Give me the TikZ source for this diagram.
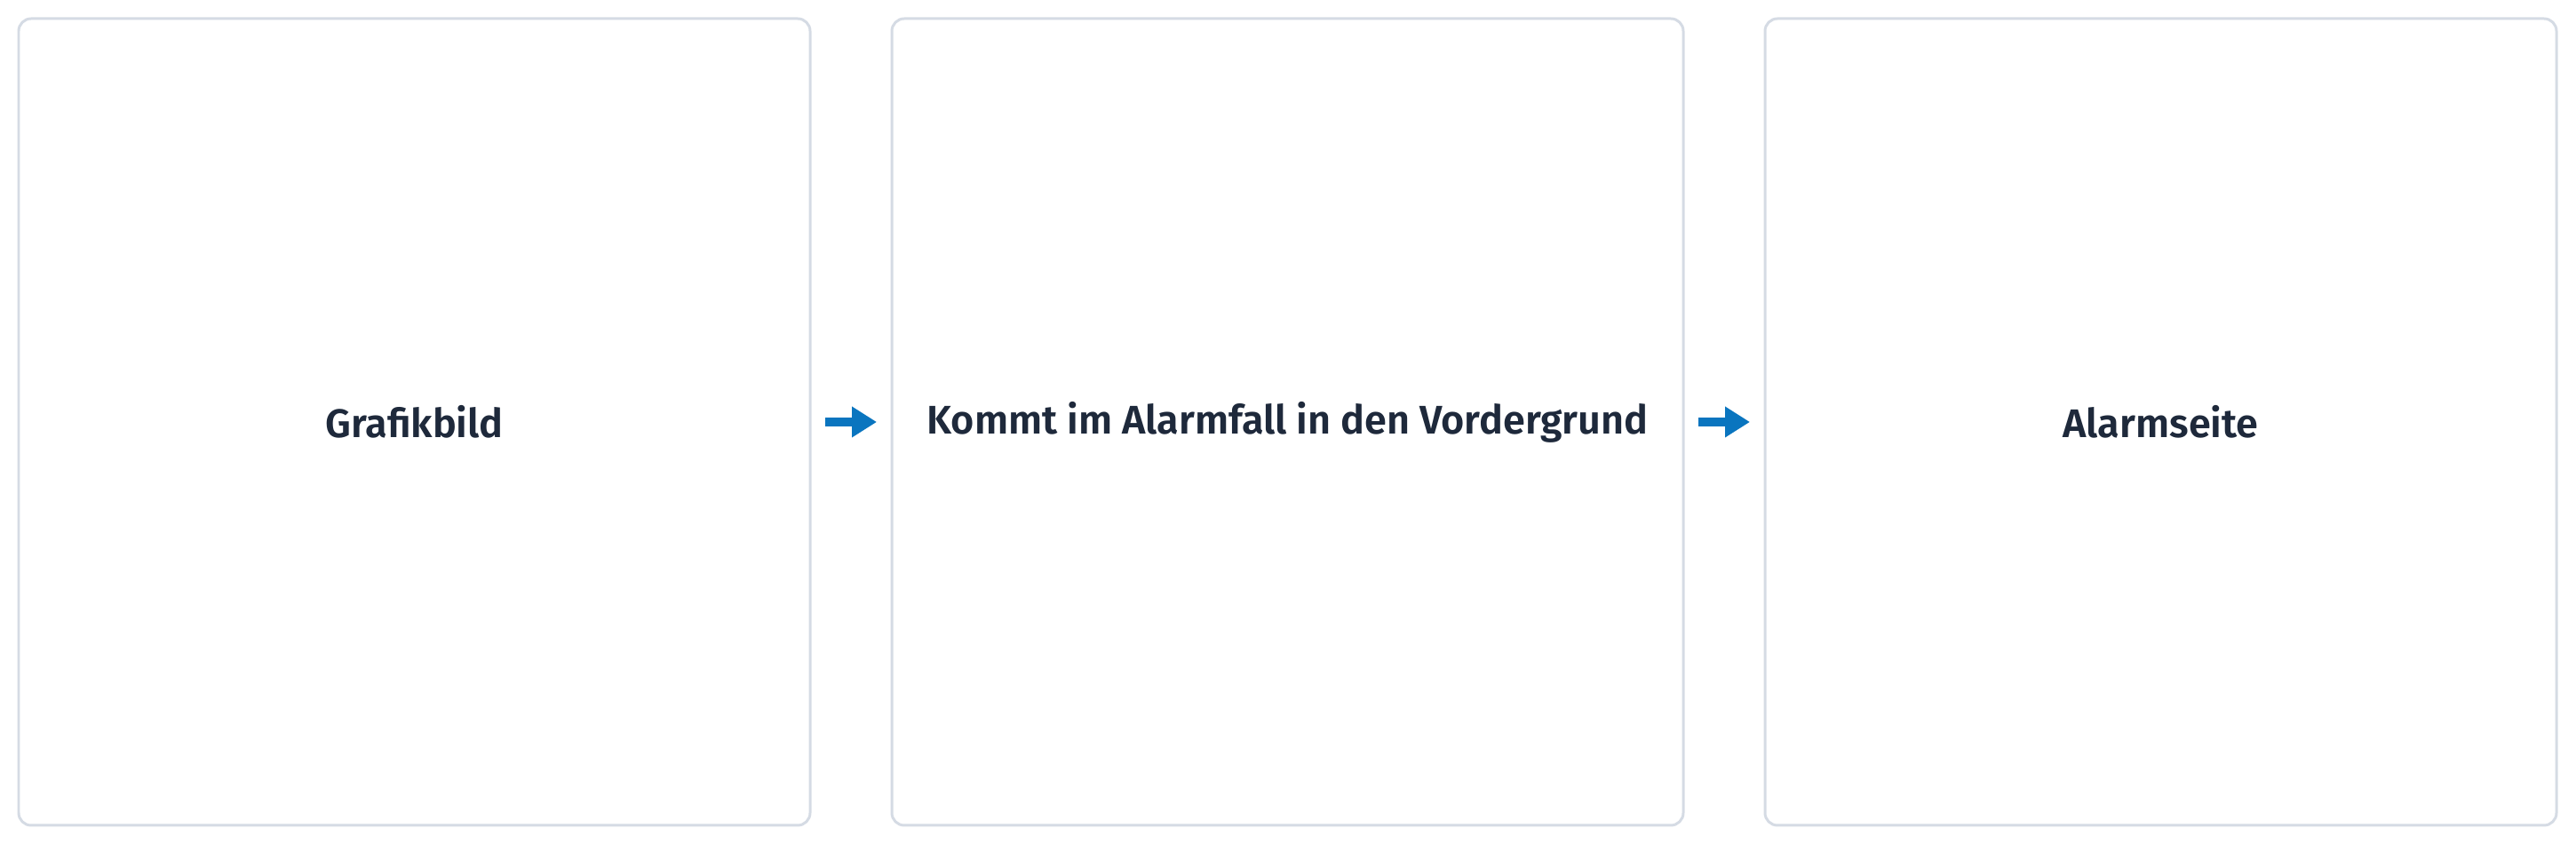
\documentclass[tikz,border=0pt]{standalone}
\usepackage{fontspec}
\setmainfont{Fira Sans}[BoldFont={Fira Sans SemiBold}]
\usetikzlibrary{positioning,arrows.meta}
\definecolor{boxline}{HTML}{D5DBE4}
\definecolor{textdark}{HTML}{1E293B}
\definecolor{arrowblue}{HTML}{0A75BF}
\tikzset{
	screen/.style={draw=boxline, line width=0.85pt, rounded corners=1.4mm, fill=white,
		minimum width=8.91cm, minimum height=9.08cm, outer sep=0pt, inner sep=0pt,
		text=textdark, font=\fontsize{12.8}{15}\selectfont\bfseries},
	flow/.style={draw=arrowblue, line width=2.85pt, shorten <=1.7mm, shorten >=1.7mm,
		-{Triangle[length=2.8mm, width=3.3mm]}}
}

\begin{document}
\begin{tikzpicture}
			%%%%% START %%%%%
			
			\useasboundingbox (0, 0) rectangle (29, 9.5);
			
			\node[screen] (grafik) at (4.665, 4.75) {Grafikbild};
			\node[screen, right=0.92cm of grafik] (vorder) {Kommt im Alarmfall in den Vordergrund};
			\node[screen, right=0.92cm of vorder] (alarm) {Alarmseite};
			
			\draw[flow] (grafik.east) -- (vorder.west);
			\draw[flow] (vorder.east) -- (alarm.west);
			
			%%%%% END %%%%%
		\end{tikzpicture}
\end{document}
